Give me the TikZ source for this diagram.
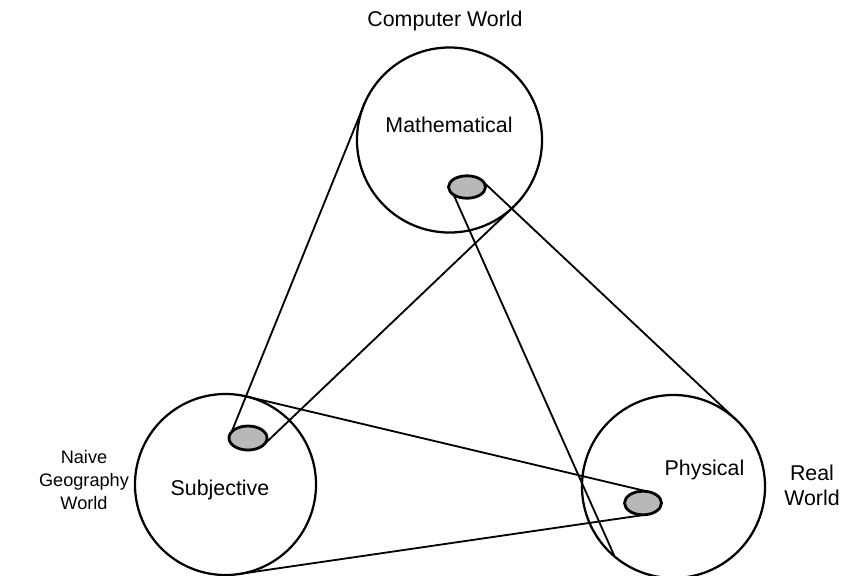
\documentclass[tikz,border=0pt]{standalone}
\usepackage{fontspec}
\setmainfont{Liberation Sans}
\usetikzlibrary{shapes.geometric}
\begin{document}
\begin{tikzpicture}[x=0.025cm,y=-0.025cm,
  world/.style={circle,draw,line width=1.6pt,inner sep=0pt,outer sep=0pt},
  subset/.style={ellipse,draw,line width=2pt,fill=black!28,inner sep=0pt,outer sep=0pt},
  link/.style={line width=1.3pt},
  lbl/.style={font=\fontsize{15.2}{17.8}\selectfont,align=center,inner sep=0pt},
  slbl/.style={font=\fontsize{12.9}{16.4}\selectfont,align=center,inner sep=0pt}]
\useasboundingbox (0,0) rectangle (846,575);
% worlds
\node[world,minimum size=4.625cm] (M) at (449.5,140) {};
\node[world,minimum size=4.525cm] (S) at (225.5,484.5) {};
\node[world,minimum size=4.575cm] (P) at (673.5,486.5) {};
% subsets
\node[subset,minimum width=0.925cm,minimum height=0.56cm] (m) at (467,187) {};
\node[subset,minimum width=0.95cm,minimum height=0.6cm] (s) at (248,438) {};
\node[subset,minimum width=0.925cm,minimum height=0.59cm] (p) at (643,503) {};
% connectors
\draw[link] (M.157.85) -- (s.160);
\draw[link] (M.-46.4) -- (s.-22.7);
\draw[link] (m.-150) -- (P.-130);
\draw[link] (m.15) -- (P.47);
\draw[link] (S.76.7) -- (p.65);
\draw[link] (S.-81.7) -- (p.-72);
% labels
\node[lbl] (tcw) at (445,21) {Computer World};
\node[lbl] (tmath) at (449,125) {Mathematical};
\node[lbl] (tsubj) at (220,490) {Subjective};
\node[lbl] (tphys) at (704.5,470) {Physical};
\node[lbl] (treal) at (812,485) {Real\\World};
\node[slbl] (tnaive) at (84,480) {Naive\\Geography\\World};
\end{tikzpicture}
\end{document}
